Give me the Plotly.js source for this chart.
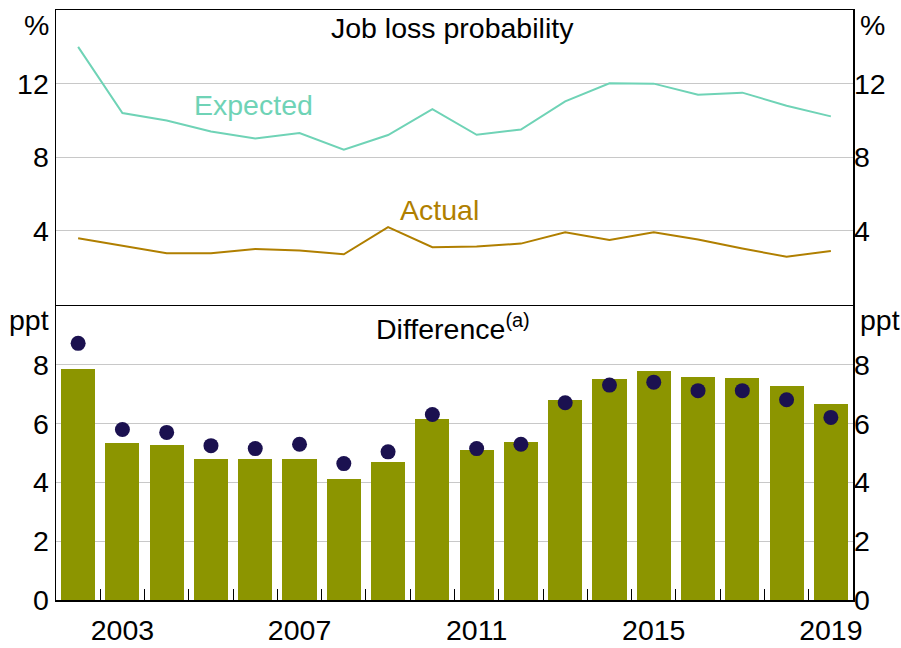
<!DOCTYPE html>
<html>
<head>
<meta charset="utf-8">
<script src="https://cdn.plot.ly/plotly-3.0.1.min.js"></script>
<style>
html,body{margin:0;padding:0;background:#fff;}
#chart{width:901px;height:648px;}
</style>
</head>
<body>
<div id="chart"></div>
<script>
const years = [2002,2003,2004,2005,2006,2007,2008,2009,2010,2011,2012,2013,2014,2015,2016,2017,2018,2019];
const expected = [14.0,10.4,10.0,9.4,9.02,9.32,8.41,9.21,10.62,9.22,9.51,11.04,12.02,12.0,11.4,11.51,10.8,10.22];
const actual = [3.6,3.2,2.79,2.79,3.02,2.93,2.73,4.2,3.11,3.15,3.31,3.93,3.51,3.93,3.53,3.04,2.6,2.91];
const diffBars = [7.86,5.34,5.28,4.8,4.8,4.8,4.12,4.7,6.16,5.11,5.38,6.81,7.52,7.79,7.59,7.56,7.29,6.68];
const diffDots = [8.73,5.8,5.7,5.25,5.15,5.3,4.64,5.04,6.31,5.15,5.3,6.71,7.31,7.41,7.12,7.12,6.81,6.21];
const xTickLabels = ['2003','2007','2011','2015','2019'];
const xTickVals = [2003,2007,2011,2015,2019];
const topTicks = [4,8,12];
const bottomTicks = [0,2,4,6,8];

const FONT = 'Liberation Sans, Arial, sans-serif';
const FS = 28.5;
const boundaries = years.slice(1).map(y => y - 0.5);

const traces = [
  {x: years, y: diffBars, type: 'bar', xaxis: 'x', yaxis: 'y', marker: {color: '#8c9500'}, width: 0.77, hoverinfo: 'skip'},
  {x: years, y: diffDots, type: 'scatter', mode: 'markers', xaxis: 'x', yaxis: 'y', marker: {color: '#1b1150', size: 15}, hoverinfo: 'skip'},
  {x: years, y: expected, type: 'scatter', mode: 'lines', xaxis: 'x2', yaxis: 'y2', line: {color: '#6fd3b6', width: 2}, hoverinfo: 'skip'},
  {x: years, y: actual, type: 'scatter', mode: 'lines', xaxis: 'x2', yaxis: 'y2', line: {color: '#b07f00', width: 2}, hoverinfo: 'skip'},
  // invisible copies so the right-hand axes are drawn
  {x: years, y: diffBars, type: 'scatter', mode: 'lines', xaxis: 'x', yaxis: 'y3', line: {color: 'rgba(0,0,0,0)', width: 0}, hoverinfo: 'skip'},
  {x: years, y: expected, type: 'scatter', mode: 'lines', xaxis: 'x2', yaxis: 'y4', line: {color: 'rgba(0,0,0,0)', width: 0}, hoverinfo: 'skip'}
];

const axLine = {showline: true, linecolor: '#000', linewidth: 1.5, mirror: true};
const layout = {
  width: 901, height: 648,
  margin: {l: 56, r: 48, t: 10, b: 48},
  paper_bgcolor: '#fff', plot_bgcolor: '#fff',
  showlegend: false,
  font: {family: FONT, size: FS, color: '#000'},
  bargap: 0,
  xaxis: Object.assign({}, axLine, {
    domain: [0, 1], anchor: 'y', range: [2001.5, 2019.5],
    tickmode: 'array', tickvals: xTickVals, ticktext: xTickLabels, ticks: '', showgrid: false, zeroline: false,
    ticklabelstandoff: 4,
    tickfont: {family: FONT, size: FS},
    minor: {tickmode: 'array', tickvals: boundaries, ticks: 'inside', ticklen: 11, tickcolor: '#000', tickwidth: 1, showgrid: false}
  }),
  yaxis: Object.assign({}, axLine, {
    domain: [0, 0.4983], anchor: 'x', range: [0, 10], tickmode: 'array', tickvals: bottomTicks,
    ticks: '', showgrid: true, gridcolor: '#c8c8c8', gridwidth: 1, zeroline: false, tickfont: {family: FONT, size: FS}
  }),
  yaxis3: {
    overlaying: 'y', side: 'right', anchor: 'x', range: [0, 10], tickmode: 'array', tickvals: bottomTicks,
    ticks: '', showgrid: false, zeroline: false, showline: false, showticklabels: true, tickfont: {family: FONT, size: FS}
  },
  xaxis2: Object.assign({}, axLine, {
    domain: [0, 1], anchor: 'y2', range: [2001.5, 2019.5], showticklabels: false, ticks: '', showgrid: false, zeroline: false
  }),
  yaxis2: Object.assign({}, axLine, {
    domain: [0.5008, 1], anchor: 'x2', range: [0, 16], tickmode: 'array', tickvals: topTicks,
    ticks: '', showgrid: true, gridcolor: '#c8c8c8', gridwidth: 1, zeroline: false, tickfont: {family: FONT, size: FS}
  }),
  yaxis4: {
    overlaying: 'y2', side: 'right', anchor: 'x2', range: [0, 16], tickmode: 'array', tickvals: topTicks,
    ticks: '', showgrid: false, zeroline: false, showline: false, showticklabels: true, tickfont: {family: FONT, size: FS}
  },
  annotations: [
    {text: 'Job loss probability', xref: 'paper', yref: 'paper', x: 0.498, y: 0.9695, xanchor: 'center', yanchor: 'middle', showarrow: false, font: {family: FONT, size: FS, color: '#000'}},
    {text: 'Difference<sup>(a)</sup>', xref: 'paper', yref: 'paper', x: 0.498, y: 0.462, xanchor: 'center', yanchor: 'middle', showarrow: false, font: {family: FONT, size: FS, color: '#000'}},
    {text: 'Expected', xref: 'paper', yref: 'paper', x: 0.2484, y: 0.8390, xanchor: 'center', yanchor: 'middle', showarrow: false, font: {family: FONT, size: FS, color: '#6fd3b6'}},
    {text: 'Actual', xref: 'paper', yref: 'paper', x: 0.4818, y: 0.6610, xanchor: 'center', yanchor: 'middle', showarrow: false, font: {family: FONT, size: FS, color: '#b07f00'}},
    {text: '%', xref: 'paper', yref: 'paper', x: -0.006, y: 0.975, xanchor: 'right', yanchor: 'middle', showarrow: false, font: {family: FONT, size: FS, color: '#000'}},
    {text: '%', xref: 'paper', yref: 'paper', x: 1.006, y: 0.975, xanchor: 'left', yanchor: 'middle', showarrow: false, font: {family: FONT, size: FS, color: '#000'}},
    {text: 'ppt', xref: 'paper', yref: 'paper', x: -0.006, y: 0.4746, xanchor: 'right', yanchor: 'middle', showarrow: false, font: {family: FONT, size: FS, color: '#000'}},
    {text: 'ppt', xref: 'paper', yref: 'paper', x: 1.006, y: 0.4746, xanchor: 'left', yanchor: 'middle', showarrow: false, font: {family: FONT, size: FS, color: '#000'}}
  ]
};

Plotly.newPlot('chart', traces, layout, {displayModeBar: false, staticPlot: true});
</script>
</body>
</html>
